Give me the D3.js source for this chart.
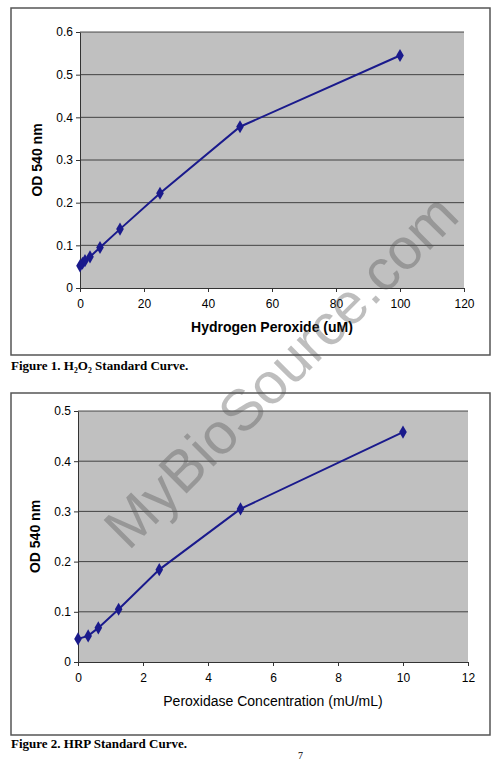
<!DOCTYPE html>
<html><head><meta charset="utf-8">
<script src="https://cdn.jsdelivr.net/npm/d3@7"></script>
<style>body{margin:0;background:#fff}</style>
</head><body>
<svg id="c" width="502" height="761"></svg>
<script>
// figure 1 data
var h2o2X = [0, 0.78, 1.56, 3.125, 6.25, 12.5, 25, 50, 100]
var h2o2Y = [0.052, 0.058, 0.064, 0.073, 0.095, 0.138, 0.222, 0.378, 0.545]
var h2o2XTicks = [0, 20, 40, 60, 80, 100, 120]
var h2o2YTicks = [0, 0.1, 0.2, 0.3, 0.4, 0.5, 0.6]
// figure 2 data
var hrpX = [0, 0.3125, 0.625, 1.25, 2.5, 5, 10]
var hrpY = [0.046, 0.052, 0.068, 0.105, 0.184, 0.305, 0.458]
var hrpXTicks = [0, 2, 4, 6, 8, 10, 12]
var hrpYTicks = [0, 0.1, 0.2, 0.3, 0.4, 0.5]

var svg = d3.select("#c")

function chart(opt) {
  var g = svg.append("g")
  g.append("rect").attr("x", opt.box[0]).attr("y", opt.box[1])
    .attr("width", opt.box[2]).attr("height", opt.box[3])
    .attr("fill", "#fff").attr("stroke", "#555").attr("stroke-width", 1.5)
  var x = d3.scaleLinear().domain(opt.xd).range([opt.pl, opt.pr])
  var y = d3.scaleLinear().domain(opt.yd).range([opt.pb, opt.pt])
  g.append("rect").attr("x", opt.pl).attr("y", opt.pt)
    .attr("width", opt.pr - opt.pl).attr("height", opt.pb - opt.pt).attr("fill", "#c0c0c0")
  g.selectAll(".grid").data(opt.yt.slice(1)).join("line")
    .attr("x1", opt.pl).attr("x2", opt.pr).attr("y1", d => y(d)).attr("y2", d => y(d))
    .attr("stroke", "#222").attr("stroke-width", 0.8)
  var ax = g.append("g").attr("transform", "translate(0," + opt.pb + ")")
    .call(d3.axisBottom(x).tickValues(opt.xt).tickSize(4).tickSizeOuter(0))
  var ay = g.append("g").attr("transform", "translate(" + opt.pl + ",0)")
    .call(d3.axisLeft(y).tickValues(opt.yt).tickFormat(d3.format("")).tickSize(4).tickSizeOuter(0))
  ;[ax, ay].forEach(a => {
    a.selectAll("text").attr("font-family", "Liberation Sans, Arial").attr("font-size", 12).attr("fill", "#000")
    a.selectAll("line,path").attr("stroke", "#333")
  })
  ax.selectAll("text").attr("dy", "1.1em")
  g.append("text").attr("x", (opt.pl + opt.pr) / 2).attr("y", opt.pb + 44)
    .attr("text-anchor", "middle").attr("font-family", "Liberation Sans, Arial")
    .attr("font-size", 14).attr("font-weight", opt.xbold ? "bold" : "normal").text(opt.xl)
  g.append("text").attr("transform", "translate(" + (opt.pl - 38) + "," + ((opt.pt + opt.pb) / 2) + ") rotate(-90)")
    .attr("text-anchor", "middle").attr("font-family", "Liberation Sans, Arial")
    .attr("font-size", 14).attr("font-weight", "bold").text("OD 540 nm")
  var pts = opt.xs.map((v, i) => [x(v), y(opt.ys[i])])
  g.append("path").attr("d", d3.line()(pts)).attr("fill", "none")
    .attr("stroke", "#1a1a8c").attr("stroke-width", 2)
  g.selectAll(".pt").data(pts).join("path")
    .attr("d", d3.symbol(d3.symbolDiamond, 50))
    .attr("transform", d => "translate(" + d[0] + "," + d[1] + ")").attr("fill", "#1a1a8c")
  svg.append("text").attr("x", 11).attr("y", opt.cap)
    .attr("font-family", "Liberation Serif, Times New Roman").attr("font-size", 13)
    .attr("font-weight", "bold").text(opt.caption)
}

chart({box: [11, 8, 479, 347], pl: 80, pr: 464, pt: 32, pb: 288, xd: [0, 120], yd: [0, 0.6],
  xt: h2o2XTicks, yt: h2o2YTicks, xs: h2o2X, ys: h2o2Y, xl: "Hydrogen Peroxide (uM)", xbold: true,
  cap: 370, caption: "Figure 1.  H\u2082O\u2082 Standard Curve."})
chart({box: [11, 393, 479, 342], pl: 78, pr: 468, pt: 411, pb: 662, xd: [0, 12], yd: [0, 0.5],
  xt: hrpXTicks, yt: hrpYTicks, xs: hrpX, ys: hrpY, xl: "Peroxidase Concentration (mU/mL)", xbold: false,
  cap: 748, caption: "Figure 2.  HRP Standard Curve."})

svg.append("text").attr("x", 298).attr("y", 759).attr("font-family", "Liberation Serif")
  .attr("font-size", 10).text("7")
svg.append("text").attr("transform", "translate(295,385) rotate(-45)")
  .attr("text-anchor", "middle").attr("font-family", "Liberation Sans, Arial")
  .attr("font-size", 58).attr("fill", "#555").attr("fill-opacity", 0.38).text("MyBioSource.com")
</script>
</body></html>
